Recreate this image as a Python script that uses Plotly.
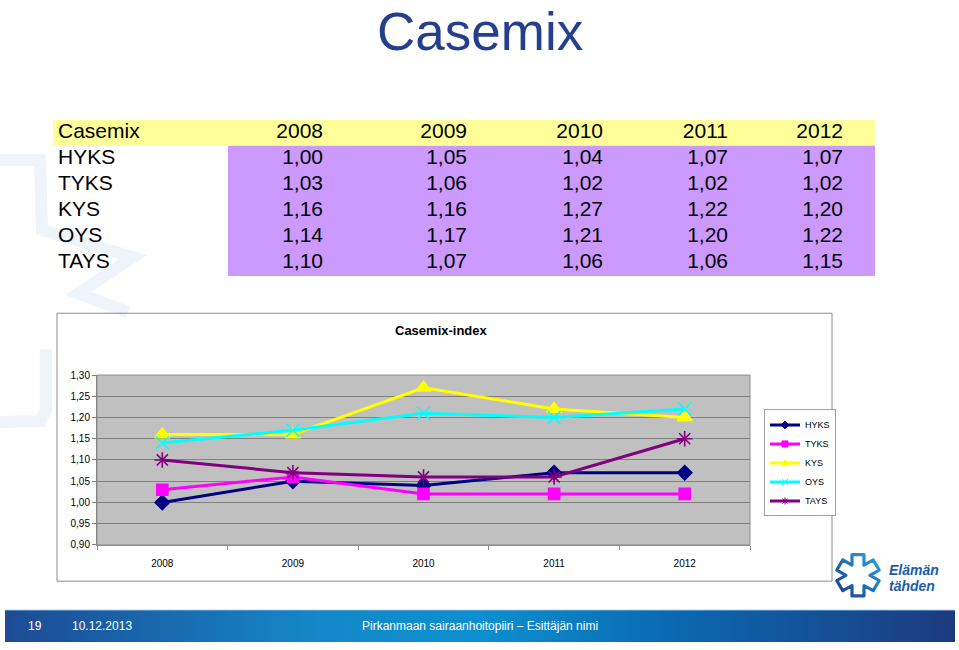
import base64
import math
import plotly.graph_objects as go

# ---------------- data ----------------
years = ["2008", "2009", "2010", "2011", "2012"]
hospitals = ["HYKS", "TYKS", "KYS", "OYS", "TAYS"]
hyks = [1.00, 1.05, 1.04, 1.07, 1.07]
tyks = [1.03, 1.06, 1.02, 1.02, 1.02]
kys = [1.16, 1.16, 1.27, 1.22, 1.20]
oys = [1.14, 1.17, 1.21, 1.20, 1.22]
tays = [1.10, 1.07, 1.06, 1.06, 1.15]
y_ticks = [0.90, 0.95, 1.00, 1.05, 1.10, 1.15, 1.20, 1.25, 1.30]

W, H = 959, 650


def px(x):
    return x / W


def py(y):
    return 1 - y / H


def svg_uri(svg):
    return "data:image/svg+xml;base64," + base64.b64encode(svg.encode("utf-8")).decode("ascii")


fig = go.Figure()

# ---------------- line chart ----------------
series = [hyks, tyks, kys, oys, tays]
colors = ["#000080", "#FF00FF", "#FFFF00", "#00FFFF", "#800080"]
symbols = ["diamond", "square", "triangle-up", "x-thin-open", "asterisk-open"]
msizes = [11, 11, 13, 13, 13]
for name, vals, c, s, ms in zip(hospitals, series, colors, symbols, msizes):
    fig.add_trace(go.Scatter(
        x=years, y=vals, name=name, mode="lines+markers",
        line=dict(color=c, width=3),
        marker=dict(symbol=s, size=ms, color=c, line=dict(color=c, width=1.6)),
        xaxis="x", yaxis="y", hoverinfo="skip", showlegend=False,
    ))
# legend entries with small symbols (as in the original legend)
for name, c, s in zip(hospitals, colors, symbols):
    fig.add_trace(go.Scatter(
        x=[None], y=[None], name=name, mode="lines+markers",
        line=dict(color=c, width=3),
        marker=dict(symbol=s, size=6, color=c, line=dict(color=c, width=1)),
        xaxis="x", yaxis="y", hoverinfo="skip", showlegend=True,
    ))

# ---------------- table (on its own axes) ----------------
tab_left, tab_right = 53, 875
tab_w = tab_right - tab_left
col_right_px = [323, 467, 603, 728, 843]
col_x = [(c - tab_left) / tab_w for c in col_right_px]
label_x = (58 - tab_left) / tab_w
purple_x0 = (228 - tab_left) / tab_w

table_font = dict(family="Liberation Sans, Arial, sans-serif", size=21, color="black")
fig.add_trace(go.Scatter(
    x=[label_x], y=[0], text=["Casemix"], mode="text", textposition="middle right",
    textfont=table_font, xaxis="x2", yaxis="y2", showlegend=False, hoverinfo="skip"))
fig.add_trace(go.Scatter(
    x=col_x, y=[0] * len(years), text=years, mode="text", textposition="middle left",
    textfont=table_font, xaxis="x2", yaxis="y2", showlegend=False, hoverinfo="skip"))
for i, (name, vals) in enumerate(zip(hospitals, series), start=1):
    fig.add_trace(go.Scatter(
        x=[label_x], y=[i], text=[name], mode="text", textposition="middle right",
        textfont=table_font, xaxis="x2", yaxis="y2", showlegend=False, hoverinfo="skip"))
    fig.add_trace(go.Scatter(
        x=col_x, y=[i] * len(vals), text=[f"{v:.2f}".replace(".", ",") for v in vals],
        mode="text", textposition="middle left",
        textfont=table_font, xaxis="x2", yaxis="y2", showlegend=False, hoverinfo="skip"))

shapes = []

# faint watermark strokes on the left
wm_color = "#EFF3FA"


def path_px(pts, close=False):
    s = "M " + " L ".join(f"{px(x):.5f},{py(y):.5f}" for x, y in pts)
    return s + (" Z" if close else "")


shapes.append(dict(type="path", xref="paper", yref="paper", layer="below",
                   path=path_px([(-8, 157), (40, 157), (42, 228), (133, 256), (78, 293), (128, 312)]),
                   line=dict(color=wm_color, width=12)))
shapes.append(dict(type="path", xref="paper", yref="paper", layer="below",
                   path=path_px([(46, 350), (46, 412), (40, 423), (-8, 424)]),
                   line=dict(color=wm_color, width=12)))

# table backgrounds
shapes.append(dict(type="rect", xref="x2", yref="y2", layer="below",
                   x0=0, x1=1, y0=-0.5, y1=0.5, fillcolor="#FFFF99", line=dict(width=0)))
shapes.append(dict(type="rect", xref="x2", yref="y2", layer="below",
                   x0=purple_x0, x1=1, y0=0.5, y1=5.5, fillcolor="#CC99FF", line=dict(width=0)))

# chart outer box
shapes.append(dict(type="rect", xref="paper", yref="paper", layer="below",
                   x0=px(57), x1=px(832), y0=py(586), y1=py(313),
                   line=dict(color="#8C8C8C", width=1), fillcolor="rgba(0,0,0,0)"))
# plot area background and border
shapes.append(dict(type="rect", xref="x domain", yref="y domain", layer="below",
                   x0=0, x1=1, y0=0, y1=1, fillcolor="#C0C0C0", line=dict(width=0)))
shapes.append(dict(type="rect", xref="x domain", yref="y domain", layer="above",
                   x0=0, x1=1, y0=0, y1=1, line=dict(color="#8C8C8C", width=1)))

# ---------------- images: footer gradient & logo ----------------
footer_svg = (
    "<svg xmlns='http://www.w3.org/2000/svg' width='950' height='33' viewBox='0 0 950 33'>"
    "<defs><linearGradient id='g' x1='0' x2='1' y1='0' y2='0'>"
    "<stop offset='0' stop-color='#1D4B93'/>"
    "<stop offset='0.33' stop-color='#1488C8'/>"
    "<stop offset='0.5' stop-color='#0C90CF'/>"
    "<stop offset='0.72' stop-color='#0B66AE'/>"
    "<stop offset='1' stop-color='#1E3A7E'/>"
    "</linearGradient></defs>"
    "<rect width='950' height='33' fill='url(#g)'/>"
    "<rect width='950' height='1' fill='#6FA9D8'/>"
    "</svg>"
)

cx, cy, R, wa = 24.0, 24.0, 21.0, 12.0
pts = []
ri = (wa / 2) / math.sin(math.radians(30))
for k in range(6):
    a = math.radians(90 + 60 * k)
    ux, uy = math.cos(a), math.sin(a)
    vx, vy = -math.sin(a), math.cos(a)
    p1 = (R * ux - wa / 2 * vx, R * uy - wa / 2 * vy)
    p2 = (R * ux + wa / 2 * vx, R * uy + wa / 2 * vy)
    b = a + math.radians(30)
    p3 = (ri * math.cos(b), ri * math.sin(b))
    for (x, y) in (p1, p2, p3):
        pts.append((cx + x, cy - y))
icon_path = "M " + " L ".join(f"{x:.2f},{y:.2f}" for x, y in pts) + " Z"
icon_svg = (
    "<svg xmlns='http://www.w3.org/2000/svg' width='48' height='48' viewBox='0 0 48 48'>"
    "<defs><linearGradient id='ig' x1='0' y1='1' x2='1' y2='0'>"
    "<stop offset='0' stop-color='#1A3C8C'/><stop offset='1' stop-color='#2CA6DE'/>"
    "</linearGradient></defs>"
    f"<path d='{icon_path}' fill='none' stroke='url(#ig)' stroke-width='3.2' stroke-linejoin='round'/>"
    "</svg>"
)

images = [
    dict(source=svg_uri(footer_svg), xref="paper", yref="paper", x=px(5), y=py(615),
         sizex=950 / W, sizey=33 / H, sizing="stretch", xanchor="left", yanchor="top", layer="below"),
    dict(source=svg_uri(icon_svg), xref="paper", yref="paper", x=px(834), y=py(556),
         sizex=48 / W, sizey=48 / H, sizing="stretch", xanchor="left", yanchor="top", layer="above"),
]

# ---------------- annotations ----------------
ann = []
ann.append(dict(text="Casemix", x=px(480), y=py(26), xref="paper", yref="paper", showarrow=False,
                xanchor="center", yanchor="middle",
                font=dict(family="Liberation Sans, Arial, sans-serif", size=53, color="#263F8C")))
ann.append(dict(text="<b>Casemix-index</b>", x=px(441), y=py(331), xref="paper", yref="paper",
                showarrow=False, xanchor="center", yanchor="middle",
                font=dict(family="Liberation Sans, Arial, sans-serif", size=13, color="black")))
foot_font = dict(family="Liberation Sans, Arial, sans-serif", size=12, color="white")
ann.append(dict(text="19", x=px(35), y=py(632), xref="paper", yref="paper", showarrow=False,
                xanchor="center", yanchor="middle", font=foot_font))
ann.append(dict(text="10.12.2013", x=px(70), y=py(632), xref="paper", yref="paper", showarrow=False,
                xanchor="left", yanchor="middle", font=foot_font))
ann.append(dict(text="Pirkanmaan sairaanhoitopiiri – Esittäjän nimi", x=px(480), y=py(632),
                xref="paper", yref="paper", showarrow=False, xanchor="center", yanchor="middle",
                font=foot_font))
logo_font = dict(family="Liberation Sans, Arial, sans-serif", size=14, color="#1E5CA8")
ann.append(dict(text="<b><i>Elämän</i></b>", x=px(887), y=py(575), xref="paper", yref="paper",
                showarrow=False, xanchor="left", yanchor="middle", font=logo_font))
ann.append(dict(text="<b><i>tähden</i></b>", x=px(887), y=py(591), xref="paper", yref="paper",
                showarrow=False, xanchor="left", yanchor="middle", font=logo_font))

axis_font = dict(family="Liberation Sans, Arial, sans-serif", size=10, color="black")

fig.update_layout(
    width=W, height=H,
    margin=dict(l=0, r=0, t=0, b=0),
    paper_bgcolor="white",
    plot_bgcolor="rgba(0,0,0,0)",
    separators=", ",
    font=dict(family="Liberation Sans, Arial, sans-serif"),
    xaxis=dict(domain=[px(97), px(750)], type="category", categoryorder="array", categoryarray=years,
               range=[-0.5, 4.5],
               showgrid=False, showline=True, linecolor="#8C8C8C", linewidth=1,
               ticks="outside", tickson="boundaries", ticklen=4, tickcolor="#8C8C8C",
               ticklabelstandoff=9,
               tickfont=axis_font, zeroline=False, fixedrange=True),
    yaxis=dict(domain=[py(549), py(376)], range=[0.9, 1.3], tickvals=y_ticks, tickformat=".2f",
               showgrid=True, gridcolor="#808080", gridwidth=1,
               showline=True, linecolor="#808080", linewidth=1,
               ticks="outside", ticklen=4, tickcolor="#808080",
               tickfont=axis_font, zeroline=False, fixedrange=True),
    xaxis2=dict(domain=[px(tab_left), px(tab_right)], range=[0, 1], visible=False, fixedrange=True),
    yaxis2=dict(domain=[py(275), py(116)], range=[5.5, -0.5], visible=False, fixedrange=True),
    legend=dict(x=px(764), y=py(411), xanchor="left", yanchor="top",
                bgcolor="white", bordercolor="#A0A0A0", borderwidth=1,
                font=dict(family="Liberation Sans, Arial, sans-serif", size=9, color="black"),
                itemwidth=30, tracegroupgap=0),
    shapes=shapes,
    images=images,
    annotations=ann,
)

fig.write_html("out.html", config={"displayModeBar": False},
               post_script="document.body.style.margin='0px';")
